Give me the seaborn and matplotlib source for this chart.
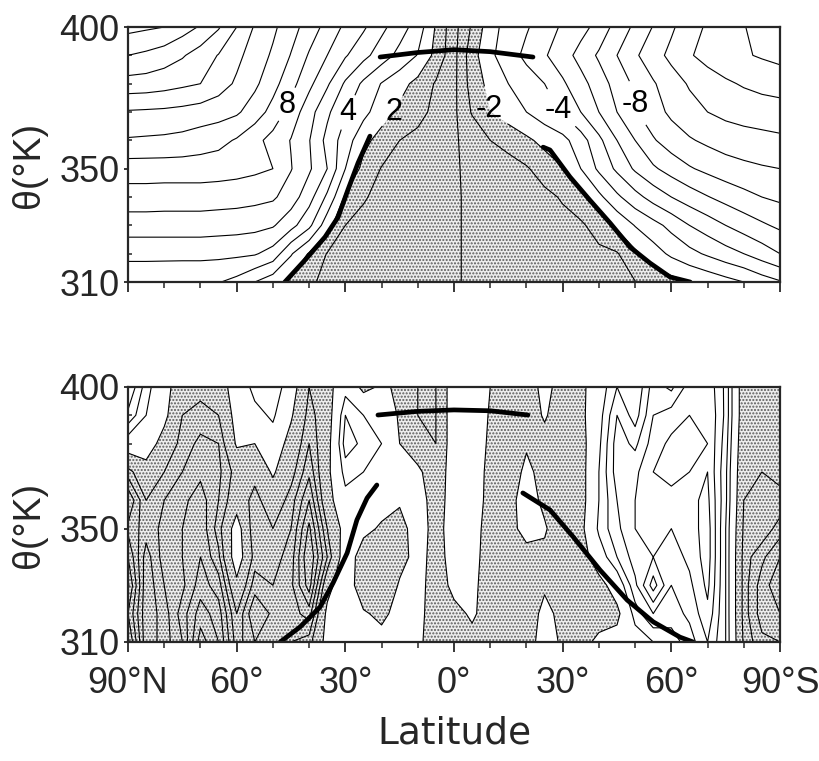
import numpy as np
import pandas as pd
import matplotlib
matplotlib.use("Agg")
import matplotlib.pyplot as plt
import seaborn as sns
from matplotlib.ticker import MultipleLocator

# latitude (deg N, positive north) and potential temperature (K) of the grid
lat = [90, 85, 80, 75, 70, 65, 60, 55, 50, 45, 40, 35, 30, 25, 20, 15, 10, 5, 0,
       -5, -10, -15, -20, -25, -30, -35, -40, -45, -50, -55, -60, -65, -70, -75, -80, -85, -90]
theta = [310, 320, 330, 340, 350, 360, 370, 380, 390, 400]

# upper panel: values, one row per theta level
top_310 = [4.2, 4.2, 4.15, 4.1, 4.1, 4.05, 3.7, 3.0, 2.4, 1.8, 1.1, 0.85, 0.7, 0.6, 0.5, 0.4, 0.3, 0.2, 0.1,
           -0.15, -0.25, -0.35, -0.4, -0.5, -0.55, -0.65, -0.75, -0.85, -0.97, -1.3, -1.65, -2.0, -2.3, -2.65, -3.0, -3.5, -3.9]
top_320 = [5.3, 5.3, 5.3, 5.3, 5.3, 5.25, 5.2, 5.1, 4.6, 3.1, 1.9, 0.95, 0.8, 0.7, 0.6, 0.5, 0.35, 0.2, 0.1,
           -0.15, -0.25, -0.35, -0.45, -0.5, -0.6, -0.7, -0.8, -0.92, -1.8, -2.55, -3.2, -3.7, -4.15, -4.6, -5.0, -5.5, -6.0]
top_330 = [6.5, 6.5, 6.5, 6.5, 6.5, 6.45, 6.4, 6.3, 6.1, 5.35, 4.25, 2.4, 1.0, 0.85, 0.7, 0.55, 0.4, 0.25, 0.1,
           -0.15, -0.3, -0.4, -0.5, -0.6, -0.7, -0.85, -1.4, -2.2, -3.05, -3.65, -4.3, -5.0, -5.5, -6.0, -6.45, -6.85, -7.2]
top_340 = [7.55, 7.55, 7.5, 7.5, 7.5, 7.45, 7.4, 7.3, 7.15, 6.5, 5.4, 3.8, 1.85, 1.05, 0.85, 0.7, 0.5, 0.3, 0.1,
           -0.15, -0.3, -0.45, -0.6, -0.75, -1.1, -1.65, -2.75, -3.8, -4.65, -5.4, -6.0, -6.5, -6.95, -7.35, -7.7, -8.0, -8.2]
top_350 = [8.5, 8.5, 8.5, 8.5, 8.5, 8.45, 8.35, 8.2, 8.0, 7.05, 6.15, 5.0, 3.0, 1.7, 0.95, 0.8, 0.6, 0.35, 0.1,
           -0.2, -0.4, -0.6, -0.9, -1.45, -1.95, -3.0, -4.2, -5.2, -6.15, -6.85, -7.4, -7.9, -8.25, -8.55, -8.75, -8.9, -9.0]
top_360 = [9.9, 9.85, 9.8, 9.7, 9.5, 9.3, 8.9, 8.3, 7.65, 6.95, 6.05, 4.7, 3.5, 2.3, 1.6, 1.0, 0.75, 0.45, 0.1,
           -0.3, -1.0, -1.35, -1.8, -2.3, -2.7, -3.55, -4.75, -6.0, -7.0, -7.9, -8.5, -8.9, -9.2, -9.45, -9.6, -9.7, -9.8]
top_370 = [10.9, 10.85, 10.8, 10.7, 10.55, 10.4, 10.15, 9.5, 8.65, 7.6, 6.4, 5.2, 4.1, 3.3, 2.45, 1.8, 1.3, 0.75, 0.2,
           -1.1, -2.0, -2.5, -3.0, -3.55, -4.1, -5.0, -6.0, -7.0, -7.9, -8.6, -9.2, -9.65, -10.0, -10.25, -10.4, -10.5, -10.6]
top_380 = [12.6, 12.55, 12.4, 12.2, 12.0, 11.45, 10.85, 10.2, 9.35, 8.35, 7.25, 6.15, 4.85, 3.8, 2.95, 2.35, 1.7, 0.9, 0.25,
           -1.45, -2.3, -3.0, -3.5, -4.0, -4.85, -5.65, -6.5, -7.4, -8.2, -8.9, -9.55, -10.1, -10.5, -10.85, -11.1, -11.3, -11.4]
top_390 = [14.0, 13.8, 13.5, 13.1, 12.55, 11.95, 11.25, 10.55, 9.85, 8.95, 7.9, 7.0, 6.1, 5.3, 4.5, 3.7, 2.95, 1.7, 0.3,
           -1.6, -2.8, -3.55, -4.25, -4.9, -5.55, -6.35, -7.15, -8.0, -8.85, -9.6, -10.25, -10.9, -11.35, -11.65, -11.9, -12.1, -12.3]
top_400 = [15.3, 15.15, 15.0, 14.45, 13.9, 13.1, 12.0, 10.9, 10.2, 9.4, 8.55, 7.65, 6.8, 6.15, 5.25, 4.45, 3.55, 1.9, 0.35,
           -1.15, -2.6, -3.4, -3.9, -4.5, -5.15, -5.65, -6.35, -7.4, -8.2, -9.05, -9.85, -10.55, -11.15, -11.55, -11.95, -12.4, -12.8]

# lower panel
bot_310 = [-2.5, -0.5, -1.0, -1.6, -3.0, -2.4, -1.0, -1.6, -1.3, -1.2, -1.0, 0.3, 0.7, 0.4, 0.3, 0.3, 0.2, -0.5, -0.4,
           -0.2, -0.2, -0.3, -0.3, 0.3, -0.1, -0.3, 0.2, 0.3, 0.5, 0.8, 1.0, 1.4, 2.0, 1.2, -0.9, -1.5, -1.6]
bot_320 = [-2.0, -0.5, -1.0, -1.8, -2.6, -2.2, -0.8, -2.0, -1.5, -1.4, -1.8, 0.2, 0.7, 0.1, -0.2, 0.3, 0.3, -0.5, -0.2,
           0.1, -0.3, -0.3, -0.4, 0.2, -0.2, -0.7, -0.4, -0.2, 1.0, 1.6, 1.4, 1.7, 2.3, 1.2, -1.0, -1.8, -2.0]
bot_330 = [-2.5, -0.5, -1.2, -1.5, -2.2, -1.8, -0.2, -1.4, -1.2, -1.5, -2.6, -0.3, 0.6, -0.6, -0.8, 0.1, 0.3, -0.4, 0.2,
           0.2, -0.4, -0.3, -0.4, -0.1, -0.4, -0.6, -0.3, 0.4, 1.5, 2.6, 1.6, 1.9, 2.5, 1.2, -1.0, -1.8, -2.3]
bot_340 = [-2.0, -0.6, -1.4, -1.6, -2.0, -1.3, 0.5, -1.0, -1.0, -1.4, -2.8, -1.2, 0.5, -0.4, -0.7, -0.3, 0.3, -0.3, 0.3,
           0.3, -0.4, -0.2, -0.3, -0.2, -0.5, -0.4, 0.5, 1.2, 1.8, 2.0, 1.8, 2.1, 2.6, 1.2, -1.0, -1.5, -2.0]
bot_350 = [-1.5, -1.0, -1.3, -1.6, -1.9, -1.0, 0.4, -1.2, -0.8, -1.2, -2.5, -0.8, 0.3, 0.2, -0.1, -0.3, 0.4, -0.3, 0.4,
           0.4, -0.4, -0.3, 0.3, 0.1, -0.6, -0.2, 0.9, 1.5, 2.0, 2.2, 2.0, 2.2, 2.6, 1.2, -0.9, -0.9, -1.4]
bot_360 = [-2.0, -0.8, -1.2, -1.5, -1.8, -1.2, -0.4, -1.0, -0.4, -1.0, -2.0, -0.3, 0.6, 0.5, 0.3, 0.1, 0.4, -0.4, 0.4,
           0.5, -0.3, -0.3, 0.4, -0.2, -0.6, -0.3, 0.8, 1.6, 2.0, 2.4, 2.3, 2.3, 2.5, 1.3, -0.8, -1.1, -0.9]
bot_370 = [-1.0, -0.3, -0.8, -1.2, -1.5, -1.3, -0.6, -0.6, 0.1, -0.6, -1.5, -0.2, 1.0, 0.8, 0.6, 0.1, 0.2, -0.6, 0.5,
           0.6, -0.3, -0.5, 0.2, -0.3, -0.6, -0.3, 0.8, 1.8, 1.9, 2.4, 2.5, 2.4, 2.4, 1.3, -0.7, -0.8, -0.7]
bot_380 = [0.5, 0.4, -0.3, -1.0, -1.3, -1.2, 0.1, 0.0, 0.5, -0.3, -1.2, -0.3, 1.4, 1.1, 0.8, 0.0, -0.6, -0.8, 0.5,
           0.7, -0.2, -0.6, -0.1, -0.3, -0.6, -0.3, 0.7, 1.8, 1.5, 2.2, 2.5, 2.5, 2.4, 1.4, -0.6, -0.5, -0.5]
bot_390 = [1.5, 0.8, 0.2, -0.8, -1.0, -0.8, 0.3, 0.6, 0.9, 0.1, -1.0, -0.4, 1.2, 0.8, 0.6, -0.1, -0.8, -0.8, 0.5,
           0.7, -0.1, -0.7, -0.5, 0.1, -0.5, -0.2, 0.6, 1.6, 1.0, 2.0, 2.2, 2.4, 2.4, 1.5, -0.5, -0.4, -0.4]
bot_400 = [2.0, 1.0, 0.3, -0.5, -0.6, -0.3, 0.3, 1.0, 1.2, 0.4, -0.8, -0.3, 0.6, -0.2, 0.1, -0.1, -0.8, -0.8, 0.5,
           0.6, 0.0, -0.6, -0.5, 0.3, -0.4, -0.2, 0.5, 1.2, 0.8, 1.8, 1.5, 2.2, 2.3, 1.5, -0.5, -0.3, -0.3]

# heavy curves (lat, theta)
top_north_lat = [46.7, 41.1, 35.6, 32.0, 29.3, 26.5, 23.2]
top_north_th = [310, 317.8, 325.9, 332.9, 342.5, 352.0, 361.5]
top_south_lat = [-65.2, -59.6, -54.1, -48.6, -43.1, -37.5, -32.0, -26.5, -24.6]
top_south_th = [310, 311.8, 316.7, 322.3, 330.8, 338.9, 347.1, 356.6, 357.6]
top_arc_lat = [20.4, 10, 0, -10, -21.8]
top_arc_th = [389.4, 391.0, 392.0, 391.3, 389.4]

bot_north_lat = [48.0, 42.5, 37.0, 33.4, 29.5, 26.8, 24.0, 21.3]
bot_north_th = [310, 315.3, 322.3, 330.8, 341.4, 353.1, 360.8, 365.4]
bot_south_lat = [-66.0, -62.4, -55.0, -47.8, -40.3, -32.9, -26.5, -19.0]
bot_south_th = [310, 311.7, 317.1, 324.8, 335.4, 347.1, 356.6, 362.6]
bot_arc_lat = [21.0, 10, 0, -10, -20.4]
bot_arc_th = [390.1, 391.4, 391.9, 391.6, 390.1]

tick_lat = [90, 60, 30, 0, -30, -60, -90]
tick_text = ["90°N", "60°", "30°", "0°", "30°", "60°", "90°S"]

top_labels = [-8, -4, -2, 2, 4, 8]
top_levels = [float(v) for v in range(-15, 16) if v not in top_labels]
bot_levels = [-2.8, -2.4, -2.0, -1.6, -1.2, -0.8, 0, 0.8, 1.2, 1.6, 2.0, 2.4, 2.8]

sns.set_style("ticks")
plt.rcParams["font.family"] = ["Liberation Sans", "DejaVu Sans"]
plt.rcParams["hatch.linewidth"] = 1.0

top = np.array([top_310, top_320, top_330, top_340, top_350, top_360, top_370, top_380, top_390, top_400])
bot = np.array([bot_310, bot_320, bot_330, bot_340, bot_350, bot_360, bot_370, bot_380, bot_390, bot_400])

fig = plt.figure(figsize=(8.19, 7.61), dpi=100)
ax1 = fig.add_axes([0.1563, 0.6294, 0.7961, 0.3351])
ax2 = fig.add_axes([0.1563, 0.1564, 0.7961, 0.3351])


def stipple(ax, z, lo, hi):
    cf = ax.contourf(lat, theta, z, levels=[lo, hi], colors=["#ededed"], hatches=["....."])
    cf.set_edgecolor("#5a5a5a")
    cf.set_linewidth(0)
    return cf


# upper panel
stipple(ax1, top, -2, 2)
ax1.contour(lat, theta, top, levels=top_levels, colors="k", linewidths=0.8, linestyles="solid")
cs1 = ax1.contour(lat, theta, top, levels=top_labels, colors="k", linewidths=0.8, linestyles="solid")
ax1.clabel(cs1, fmt="%d", fontsize=22, inline=True, inline_spacing=10,
           manual=[(46.6, 373), (29.5, 370), (16.5, 370), (-10, 371), (-29.3, 371), (-50.5, 373)])
for t in cs1.labelTexts:
    t.set_rotation(0)

# lower panel
stipple(ax2, bot, -10, 0)
ax2.contour(lat, theta, bot, levels=bot_levels, colors="k", linewidths=0.8, linestyles="solid")

heavy = [
    (ax1, top_north_lat, top_north_th), (ax1, top_south_lat, top_south_th), (ax1, top_arc_lat, top_arc_th),
    (ax2, bot_north_lat, bot_north_th), (ax2, bot_south_lat, bot_south_th), (ax2, bot_arc_lat, bot_arc_th),
]
for ax, xs, ys in heavy:
    d = pd.DataFrame({"lat": xs, "theta": ys})
    sns.lineplot(data=d, x="lat", y="theta", sort=False, estimator=None, color="k", linewidth=3.4, ax=ax)

for ax in (ax1, ax2):
    ax.set_xlim(90, -90)
    ax.set_ylim(310, 400)
    ax.set_xticks(tick_lat)
    ax.xaxis.set_minor_locator(MultipleLocator(10))
    ax.set_yticks([310, 350, 400])
    ax.yaxis.set_minor_locator(MultipleLocator(10))
    ax.tick_params(axis="x", which="major", direction="out", length=7, width=1.3)
    ax.tick_params(axis="x", which="minor", direction="out", length=4, width=1.1)
    ax.tick_params(axis="y", which="major", direction="out", length=3, width=1.3, labelsize=26, pad=3)
    ax.tick_params(axis="y", which="minor", direction="in", length=3, width=1.1)
    for s in ax.spines.values():
        s.set_linewidth(1.6)
        s.set_visible(True)
    ax.set_xlabel("")
    ax.set_ylabel("θ(°K)", fontsize=27)
    ax.yaxis.set_label_coords(-0.125, 0.46)

ax1.set_xticklabels([])
ax2.set_xticklabels(tick_text, fontsize=26)
ax2.tick_params(axis="x", which="major", pad=10)
ax2.set_xlabel("Latitude", fontsize=27, family="DejaVu Sans")
ax2.xaxis.set_label_coords(0.5, -0.29)

fig.savefig("out.png", dpi=100)
